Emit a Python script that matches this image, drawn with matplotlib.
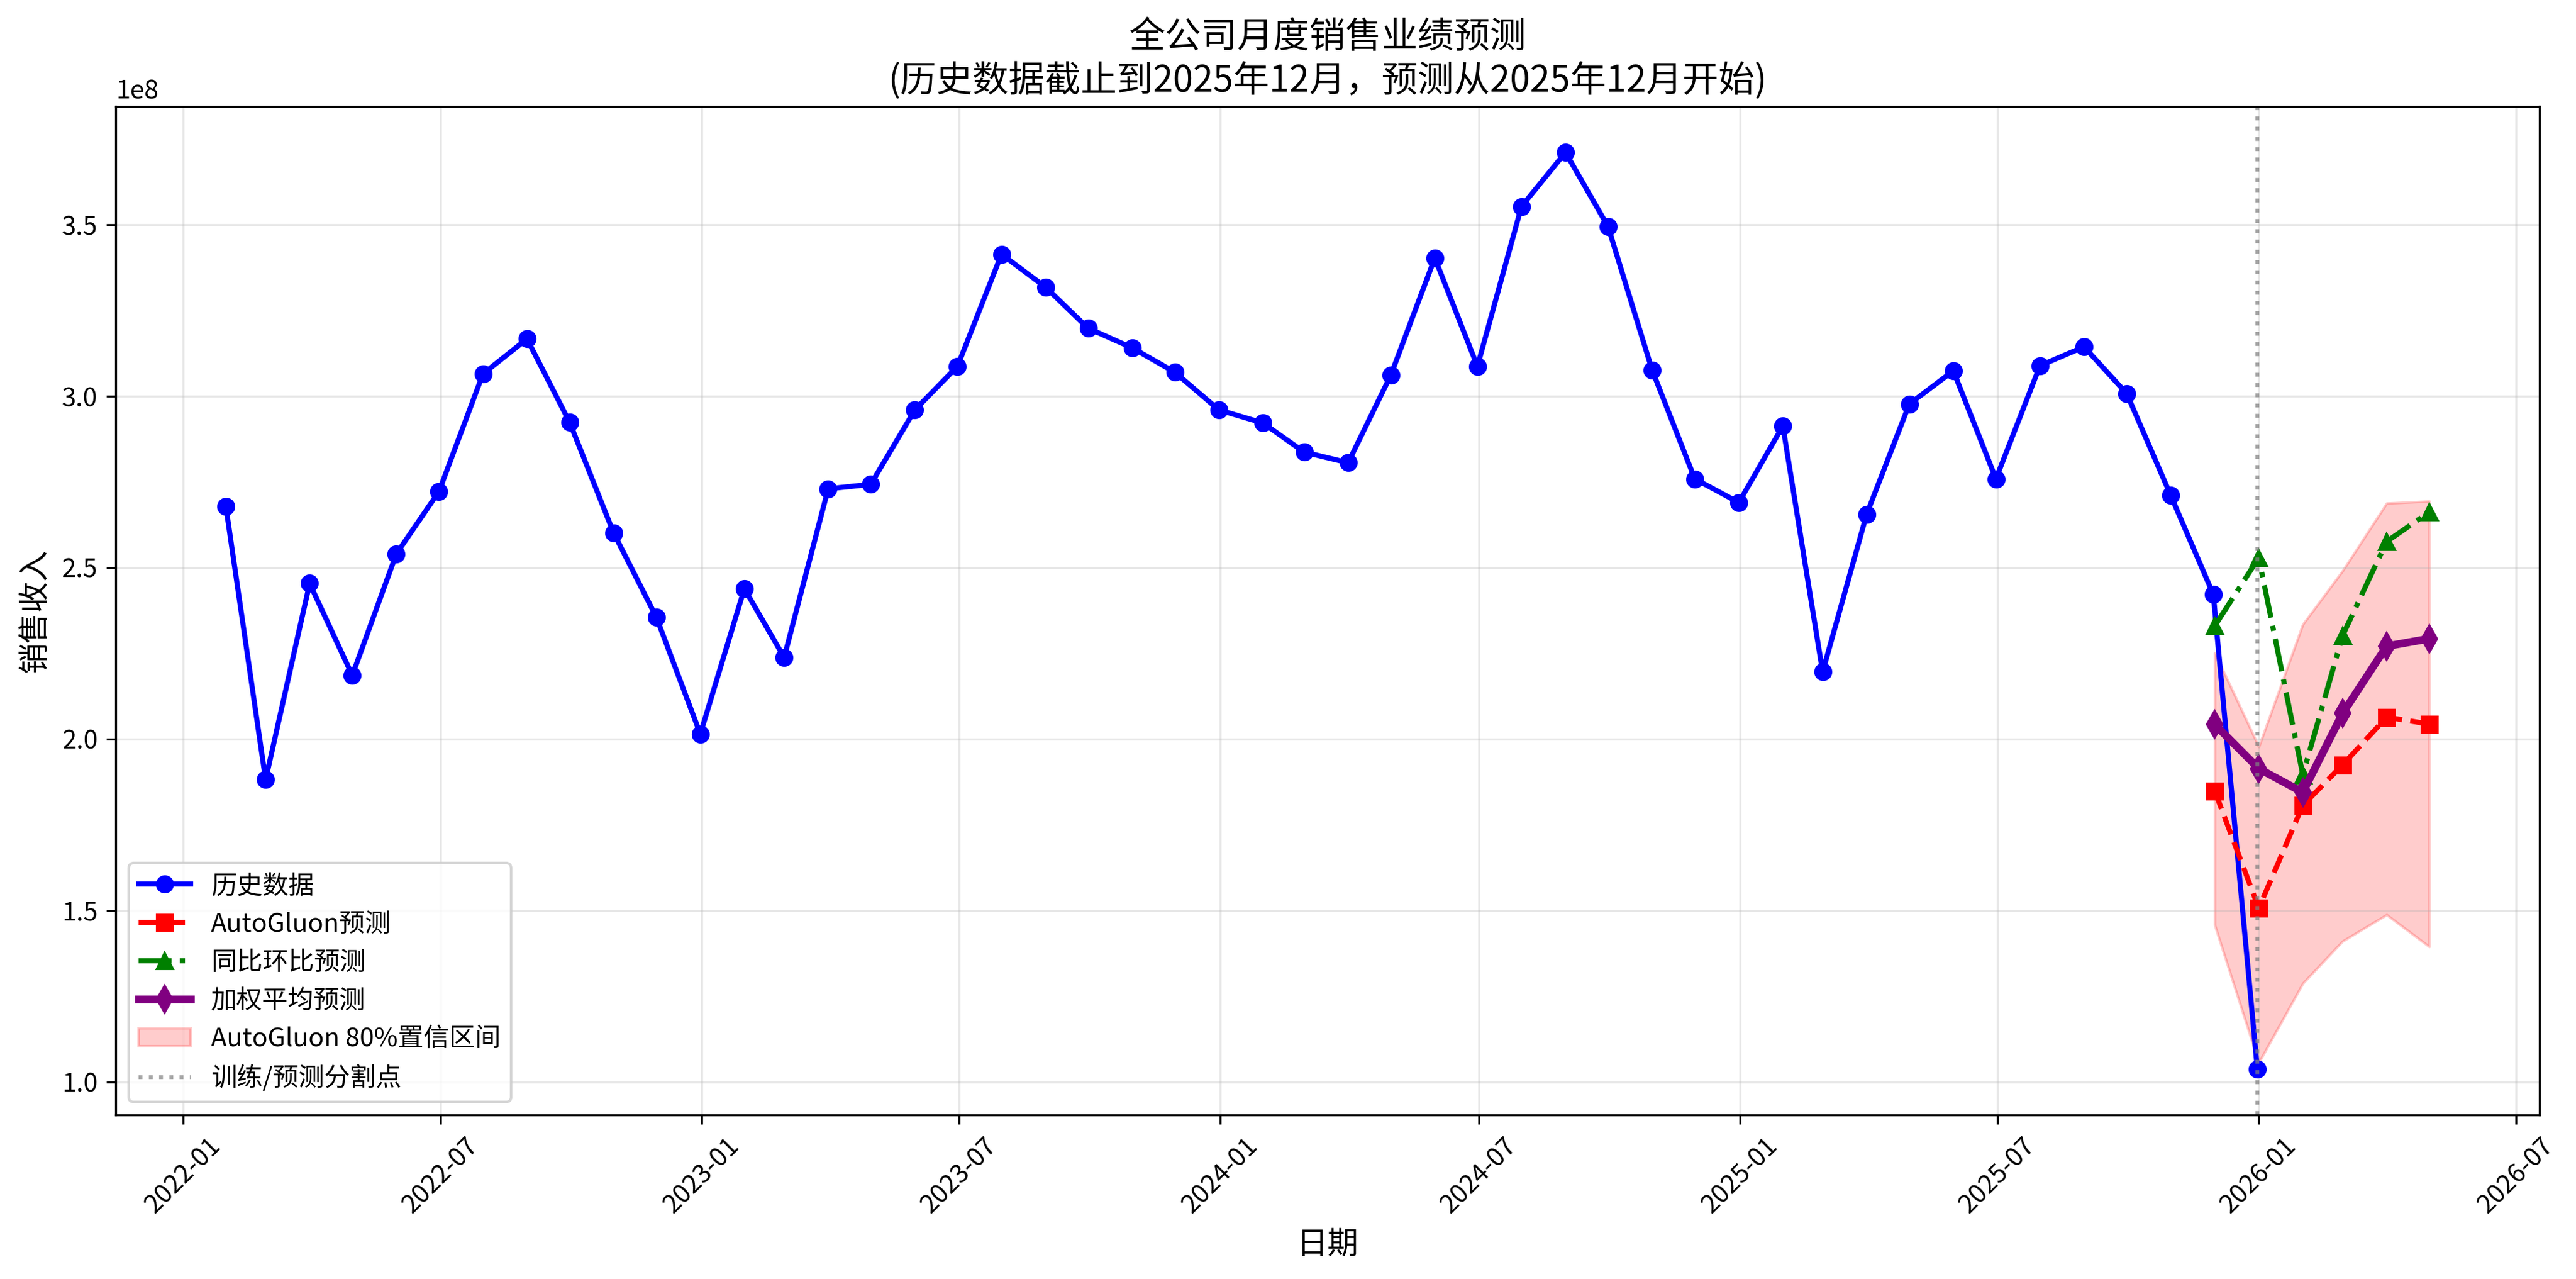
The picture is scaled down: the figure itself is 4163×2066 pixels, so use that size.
import matplotlib
matplotlib.use("Agg")
import matplotlib.pyplot as plt
import numpy as np
import pandas as pd

plt.rcParams['font.family'] = ['Noto Sans CJK SC', 'DejaVu Sans']
plt.rcParams['axes.unicode_minus'] = False

# ---- data (values in units of 1e8) ----
hist_dates = pd.date_range('2022-01-31', periods=48, freq='ME')
hist_values = [2.679, 1.882, 2.454, 2.186, 2.540, 2.722, 3.065, 3.167, 2.924, 2.601, 2.356, 2.015,
               2.439, 2.238, 2.730, 2.743, 2.960, 3.087, 3.414, 3.318, 3.198, 3.141, 3.070, 2.960,
               2.922, 2.837, 2.806, 3.061, 3.403, 3.087, 3.553, 3.711, 3.494, 3.076, 2.759, 2.690,
               2.913, 2.196, 2.656, 2.977, 3.074, 2.759, 3.089, 3.144, 3.008, 2.711, 2.422, 1.038]

fc_dates = pd.date_range('2025-12-01', periods=6, freq='MS')
autogluon = [1.849, 1.507, 1.807, 1.925, 2.064, 2.044]
yoy_mom = [2.330, 2.529, 1.896, 2.302, 2.576, 2.662]
weighted = [2.043, 1.914, 1.845, 2.075, 2.271, 2.293]
ag_lower = [1.458, 1.057, 1.288, 1.411, 1.488, 1.395]
ag_upper = [2.252, 1.978, 2.335, 2.491, 2.688, 2.694]

split_date = hist_dates[-1]
scale = 1e8

fig = plt.figure(figsize=(4163 / 300, 2066 / 300), dpi=300)
ax = fig.add_axes([0.0449, 0.1283, 0.9858 - 0.0449, 0.9167 - 0.1283])

h1, = ax.plot(hist_dates, np.array(hist_values) * scale, color='blue', marker='o',
              linewidth=2, markersize=6, label='历史数据')
h2, = ax.plot(fc_dates, np.array(autogluon) * scale, color='red', marker='s', linestyle='--',
              linewidth=2, markersize=6, label='AutoGluon预测')
h3, = ax.plot(fc_dates, np.array(yoy_mom) * scale, color='green', marker='^', linestyle='-.',
              linewidth=2, markersize=6, label='同比环比预测')
h4, = ax.plot(fc_dates, np.array(weighted) * scale, color='purple', marker='d', linestyle='-',
              linewidth=3, markersize=7, label='加权平均预测')
h5 = ax.fill_between(fc_dates, np.array(ag_lower) * scale, np.array(ag_upper) * scale,
                     color='red', alpha=0.2, label='AutoGluon 80%置信区间')
h6 = ax.axvline(split_date, color='gray', linestyle=':', linewidth=1.5, alpha=0.7,
                label='训练/预测分割点')

ax.set_title('全公司月度销售业绩预测\n(历史数据截止到2025年12月，预测从2025年12月开始)', fontsize=14)
ax.set_xlabel('日期', fontsize=12)
ax.set_ylabel('销售收入', fontsize=12)
ax.grid(True, alpha=0.3)
ax.legend(handles=[h1, h2, h3, h4, h5, h6], loc='lower left', fontsize=10)

import matplotlib.dates as mdates
ax.xaxis.set_major_locator(mdates.MonthLocator(bymonth=[1, 7]))
ax.xaxis.set_major_formatter(mdates.DateFormatter('%Y-%m'))
plt.setp(ax.get_xticklabels(), rotation=45)

fig.savefig('out.png', dpi=300)
